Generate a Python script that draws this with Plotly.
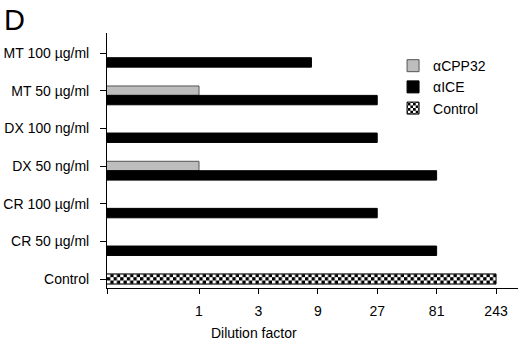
import plotly.graph_objects as go

categories = ["MT 100 µg/ml", "MT 50 µg/ml", "DX 100 ng/ml", "DX 50 ng/ml",
              "CR 100 µg/ml", "CR 50 µg/ml", "Control"]
cpp32 = [None, 1, None, 1, None, None, None]
ice = [8, 27, 27, 81, 27, 81, None]
control = [None, None, None, None, None, None, 243]
tick_vals = [1, 3, 9, 27, 81, 243]
tick_text = ["1", "3", "9", "27", "81", "243"]

font = "Liberation Sans, Arial, sans-serif"
xmin_log = -0.739
xmax_log = 2.562

fig = go.Figure()
fig.add_trace(go.Bar(y=categories, x=cpp32, orientation="h", name="\u03b1CPP32",
                     marker=dict(color="#bdbdbd", line=dict(color="#555555", width=1)),
                     width=0.25, offset=-0.125, legendgroup="a"))
fig.add_trace(go.Bar(y=categories, x=ice, orientation="h", name="\u03b1ICE",
                     marker=dict(color="black", line=dict(color="black", width=1)),
                     width=0.25, offset=0.125, legendgroup="b"))
fig.add_trace(go.Bar(y=categories, x=control, orientation="h", name="Control",
                     marker=dict(color="white", line=dict(color="black", width=1),
                                 pattern=dict(shape="x", fgcolor="black", bgcolor="white",
                                              size=6, solidity=0.8)),
                     width=0.27, offset=-0.135, legendgroup="c"))

fig.update_layout(
    width=520, height=341,
    margin=dict(l=107, r=2, t=33, b=53, autoexpand=False),
    paper_bgcolor="white", plot_bgcolor="white",
    barmode="overlay",
    font=dict(family=font, size=14, color="black"),
    showlegend=True,
    legend=dict(x=0.696, y=0.933, xanchor="left", yanchor="top",
                bgcolor="rgba(0,0,0,0)", font=dict(size=14),
                traceorder="grouped", tracegroupgap=0),
    xaxis=dict(type="log", range=[xmin_log, xmax_log], automargin=False,
               tickvals=[10 ** xmin_log] + tick_vals, ticktext=[""] + tick_text,
               ticks="outside", ticklen=5, tickcolor="black", tickwidth=1,
               showline=True, linecolor="black", linewidth=1,
               showgrid=False, zeroline=False, ticklabelstandoff=5,
               tickfont=dict(size=14)),
    yaxis=dict(type="category", categoryorder="array", categoryarray=categories,
               range=[6.239, -0.531], automargin=False,
               ticks="outside", ticklen=6, tickcolor="black", tickwidth=1,
               showline=True, linecolor="black", linewidth=1,
               showgrid=False, zeroline=False,
               ticklabelstandoff=8,
               tickfont=dict(size=14)),
    annotations=[
        dict(text="D", x=0, y=1, xref="paper", yref="paper", xanchor="left", yanchor="top",
             xshift=-105, yshift=31, showarrow=False, font=dict(size=29)),
        dict(text="Dilution factor", x=(254 - 107) / 411, y=-(333 - 288) / 255,
             xref="paper", yref="paper", xanchor="center", yanchor="middle",
             showarrow=False, font=dict(size=14)),
    ],
)

post = """
document.body.style.margin='0';
var NS='http://www.w3.org/2000/svg';
document.querySelectorAll('pattern').forEach(function(p){
  var s=6.6, h=s/2;
  p.setAttribute('width', s); p.setAttribute('height', s);
  while(p.firstChild){p.removeChild(p.firstChild);}
  [[0,0,s,s,'white'],[0,0,h,h,'black'],[h,h,h,h,'black']].forEach(function(r){
    var e=document.createElementNS(NS,'rect');
    e.setAttribute('x',r[0]);e.setAttribute('y',r[1]);
    e.setAttribute('width',r[2]);e.setAttribute('height',r[3]);
    e.setAttribute('fill',r[4]);p.appendChild(e);
  });
});
"""
fig.write_html("out.html", post_script=post, config={"displayModeBar": False})
